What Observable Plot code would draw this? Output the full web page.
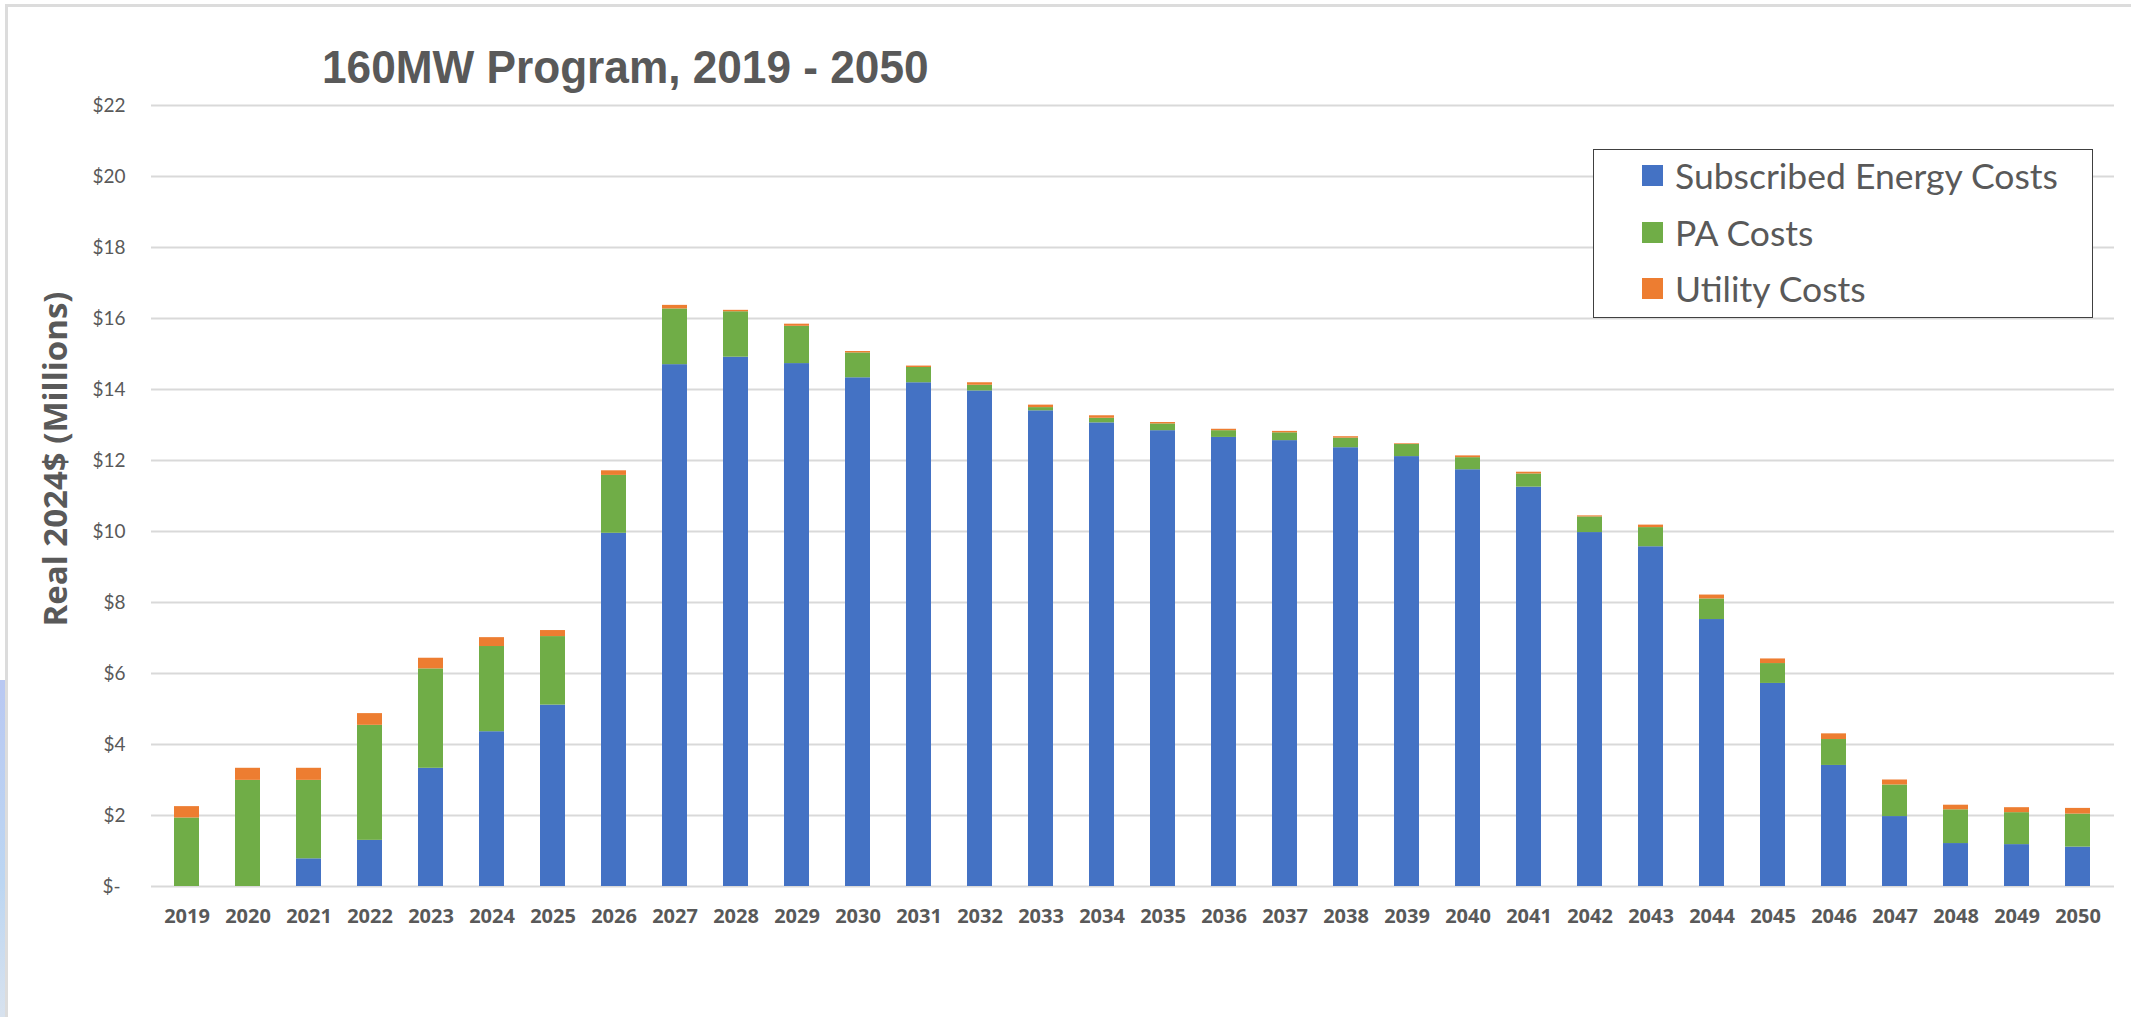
<!DOCTYPE html>
<html>
<head>
<meta charset="utf-8">
<script src="https://cdn.jsdelivr.net/npm/d3@7"></script>
<script src="https://cdn.jsdelivr.net/npm/@observablehq/plot@0.6"></script>
<style>
  html, body { margin: 0; padding: 0; background: #fff; overflow: hidden; }
  #wrap { position: relative; width: 2131px; height: 1017px; background: #fff; }
  #frameTop { position: absolute; left: 5px; top: 4px; width: 2126px; height: 3px; background: #dcdcdc; }
  #frameLeft { position: absolute; left: 5px; top: 4px; width: 3px; height: 1013px; background: #dcdcdc; }
  #strip { position: absolute; left: 0; top: 680px; width: 5px; height: 337px;
           background: linear-gradient(#b9c8f2, #bcd6f2 60%, #d8e2ee); }
  #title { position: absolute; left: 322px; top: 40px; margin: 0;
           font-family: "Liberation Sans", Arial, sans-serif; font-weight: bold;
           font-size: 47px; line-height: 54px; color: #595959; white-space: nowrap;
           transform: scaleX(0.94); transform-origin: left center; }
  #legend { position: absolute; left: 1593px; top: 149px; width: 500px; height: 169px;
            border: 1.5px solid #404040; box-sizing: border-box; background: #fff; }
  .item { position: absolute; left: 48px; height: 40px; display: flex; align-items: center;
          font-family: Lato, "Open Sans", sans-serif; font-size: 35.5px; color: #595959; white-space: nowrap; }
  .sw { width: 21px; height: 21px; margin-right: 12px; flex: none; }
  svg [aria-label="x-axis tick label"] { font-weight: bold; font-family: "Open Sans", Lato, sans-serif; }
</style>
</head>
<body>
<div id="wrap">
  <div id="chart"></div>
  <div id="frameTop"></div>
  <div id="frameLeft"></div>
  <div id="strip"></div>
  <div id="title"></div>
  <div id="legend"></div>
</div>
<script>
// ---- data ($ millions, real 2024$) ----
const years = ["2019","2020","2021","2022","2023","2024","2025","2026","2027","2028","2029","2030","2031","2032","2033","2034",
               "2035","2036","2037","2038","2039","2040","2041","2042","2043","2044","2045","2046","2047","2048","2049","2050"];
const seriesNames = ["Subscribed Energy Costs", "PA Costs", "Utility Costs"];
const seriesColors = ["#4472C4", "#70AD47", "#ED7D31"];
const subscribedEnergy = [0, 0, 0.78, 1.30, 3.33, 4.36, 5.11, 9.95, 14.70, 14.91, 14.73, 14.33, 14.19, 13.96, 13.40, 13.06,
                          12.84, 12.65, 12.56, 12.36, 12.11, 11.74, 11.25, 9.97, 9.57, 7.52, 5.72, 3.41, 1.97, 1.21, 1.18, 1.11];
const paCosts = [1.93, 2.99, 2.21, 3.24, 2.80, 2.40, 1.93, 1.63, 1.57, 1.28, 1.05, 0.70, 0.43, 0.16, 0.09, 0.13,
                 0.19, 0.19, 0.22, 0.27, 0.34, 0.34, 0.37, 0.44, 0.54, 0.58, 0.56, 0.73, 0.89, 0.95, 0.90, 0.93];
const utilityCosts = [0.32, 0.34, 0.34, 0.33, 0.30, 0.25, 0.17, 0.13, 0.10, 0.04, 0.06, 0.04, 0.04, 0.07, 0.07, 0.07,
                      0.04, 0.04, 0.04, 0.04, 0.02, 0.05, 0.05, 0.03, 0.07, 0.11, 0.13, 0.16, 0.14, 0.13, 0.14, 0.16];
const yTicks = [0, 2, 4, 6, 8, 10, 12, 14, 16, 18, 20, 22];
const chartTitle = "160MW Program, 2019 - 2050";
const yAxisLabel = "Real 2024$ (Millions)";

// ---- long table for stacking ----
const seriesValues = [subscribedEnergy, paCosts, utilityCosts];
const rows = [];
years.forEach((yr, i) => {
  seriesNames.forEach((s, k) => rows.push({year: yr, series: s, value: seriesValues[k][i]}));
});

const chart = Plot.plot({
  width: 2131,
  height: 1017,
  marginLeft: 151,
  marginRight: 17,
  marginTop: 105,
  marginBottom: 131,
  style: {fontFamily: "Lato, 'Open Sans', sans-serif", color: "#595959", background: "transparent"},
  x: {type: "band", domain: years, paddingInner: 0.59, paddingOuter: 0.295, label: null},
  y: {domain: [0, 22], label: null},
  color: {domain: seriesNames, range: seriesColors},
  marks: [
    Plot.gridY(yTicks, {stroke: "#d9d9d9", strokeOpacity: 1, strokeWidth: 2}),
    Plot.barY(rows, {x: "year", y: "value", fill: "series", order: seriesNames}),
    Plot.axisY({ticks: yTicks, tickSize: 0, tickPadding: 26, fontSize: 19, fill: "#595959", label: null,
                tickFormat: d => d === 0 ? "$-\u00a0" : "$" + d}),
    Plot.axisX({tickSize: 0, tickPadding: 22, fontSize: 20, fontWeight: "bold", fill: "#595959", label: null}),
    Plot.text([yAxisLabel], {frameAnchor: "left", text: d => d, rotate: -90, dx: -95, dy: -37,
               fontSize: 33, fontWeight: "bold", fontFamily: "'Open Sans', Lato, sans-serif",
               fill: "#595959", textAnchor: "middle"})
  ]
});
document.getElementById("chart").appendChild(chart);

document.getElementById("title").textContent = chartTitle;

const legend = document.getElementById("legend");
const rowTops = [5, 62, 118];
seriesNames.forEach((s, k) => {
  const it = document.createElement("div");
  it.className = "item";
  it.style.top = rowTops[k] + "px";
  const sw = document.createElement("span");
  sw.className = "sw";
  sw.style.background = seriesColors[k];
  const tx = document.createElement("span");
  tx.textContent = s;
  it.appendChild(sw);
  it.appendChild(tx);
  legend.appendChild(it);
});
</script>
</body>
</html>
